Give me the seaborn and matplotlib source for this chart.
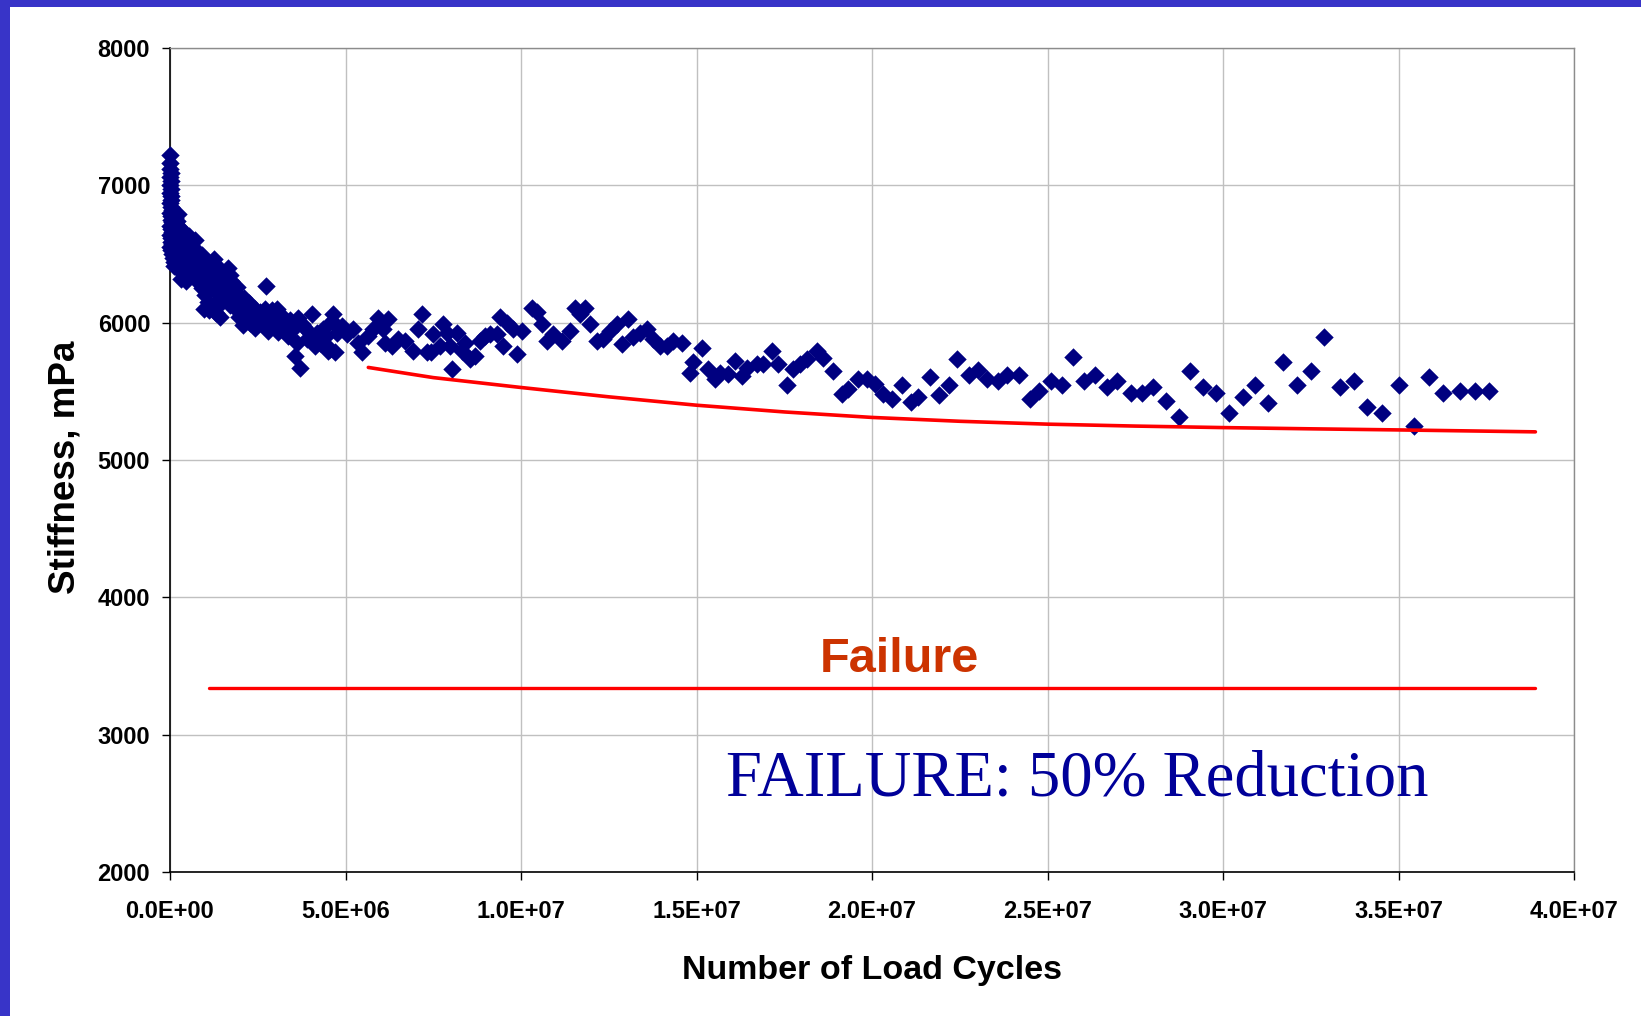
import numpy as np
import pandas as pd
import matplotlib
matplotlib.use("Agg")
import matplotlib.pyplot as plt
from matplotlib import font_manager
from matplotlib.ticker import FuncFormatter
from matplotlib.patches import Rectangle
import seaborn as sns

# ---- measured stiffness (cycles in millions, stiffness in mPa) ----
early_cycles_m = [
    0.00, 0.01, 0.00, 0.02, 0.01, 0.03, 0.00, 0.02, 0.01, 0.04, 0.02, 0.00, 0.03, 0.05, 0.01,
    0.04, 0.02, 0.06, 0.00, 0.03, 0.05, 0.01, 0.04, 0.02, 0.06, 0.00, 0.03, 0.05, 0.08, 0.10,
    0.12,
    0.10, 0.15, 0.20, 0.24, 0.25, 0.12, 0.18, 0.30, 0.35, 0.22, 0.28, 0.14, 0.40, 0.45, 0.38,
    0.32, 0.20, 0.26, 0.50, 0.53, 0.55, 0.42, 0.48, 0.35, 0.60, 0.58, 0.30, 0.45, 0.65,
    0.70, 0.75, 0.80, 0.68, 0.90, 0.85, 1.00, 0.95, 0.72, 0.78, 1.10, 1.05, 0.88, 0.92, 1.20,
    1.25, 1.30, 1.15, 1.00, 1.08, 0.98, 1.12, 1.35, 1.40, 1.28, 1.45, 1.38, 1.50, 1.42, 1.32,
    1.55,
    1.60, 1.66, 1.70, 1.75, 1.65, 1.80, 1.85, 1.72, 1.90, 1.95, 2.00, 1.88, 2.05, 1.98, 2.10,
    2.15, 2.20, 2.08, 2.25, 2.30, 2.35, 2.28, 2.40, 2.45, 2.50, 2.42, 2.55, 2.60, 2.73, 2.65,
    2.70, 2.78, 2.85, 2.80, 2.90, 2.95, 3.00, 3.05, 3.10, 3.15, 3.08, 3.20, 3.25, 3.30, 3.37,
    3.42, 3.51, 3.56, 3.61, 3.66, 3.70, 3.75, 3.80, 3.89, 3.95, 4.04, 4.13, 4.18, 4.27, 4.37,
    4.45, 4.51, 4.56, 4.61, 4.63, 4.70, 4.75, 4.89, 5.03, 5.22, 5.37, 5.46, 5.65, 5.79, 5.94,
    6.08, 6.13, 6.22, 6.32, 6.50,
]
early_stiffness = [
    7220, 7160, 7120, 7090, 7060, 7030, 7000, 6975, 6945, 6920, 6895, 6870, 6845, 6820, 6800,
    6775, 6750, 6730, 6705, 6685, 6660, 6640, 6615, 6590, 6570, 6550, 6530, 6500, 6470, 6440,
    6410,
    6790, 6760, 6740, 6790, 6700, 6680, 6650, 6680, 6620, 6600, 6560, 6540, 6590, 6560, 6520,
    6480, 6470, 6430, 6500, 6630, 6470, 6420, 6380, 6360, 6440, 6340, 6320, 6300, 6390,
    6600, 6530, 6480, 6450, 6490, 6420, 6440, 6380, 6350, 6300, 6400, 6350, 6320, 6250, 6330,
    6460, 6420, 6280, 6200, 6150, 6100, 6090, 6370, 6300, 6230, 6180, 6120, 6250, 6040, 6070,
    6330,
    6270, 6400, 6350, 6300, 6200, 6240, 6180, 6130, 6260, 6200, 6150, 6100, 6090, 6040, 6180,
    6120, 6060, 5980, 6140, 6080, 6030, 6000, 6110, 6060, 6010, 5960, 6080, 6040, 6270, 5990,
    6100, 6060, 6020, 5940, 6090, 6050, 6000, 6100, 6060, 5990, 5930, 6050, 6010, 5960, 5904,
    6020, 5952, 5758, 5855, 6037, 5673, 5990, 5977, 5880, 5930, 6062, 5831, 5928, 5855, 5952,
    5900, 5795, 5807, 6013, 6062, 5783, 5928, 5977, 5916, 5952, 5855, 5783, 5904, 5952, 6037,
    5952, 5855, 6025, 5831, 5880,
]

later_cycles_m = [
    6.70, 6.93, 7.17, 7.07, 7.31, 7.45, 7.50, 7.69, 7.79, 7.88, 7.98, 8.03, 8.17, 8.31, 8.40,
    8.55, 8.69, 8.83, 8.98, 9.12, 9.31, 9.40, 9.50, 9.59, 9.78, 9.88, 10.02, 10.30, 10.45, 10.59,
    10.73, 10.92, 11.16, 11.40, 11.54, 11.68, 11.82, 11.97, 12.16, 12.35, 12.54, 12.73, 12.87,
    13.06, 13.20, 13.39, 13.58, 13.77, 13.96, 14.15, 14.34, 14.58, 14.82, 14.91, 15.15, 15.34,
    15.53, 15.67, 15.91, 16.10, 16.29, 16.43, 16.71, 16.90, 17.14, 17.33, 17.57, 17.76, 17.95,
    18.14, 18.42, 18.61, 18.90, 19.14, 19.33, 19.61, 19.85, 20.09, 20.32, 20.56, 20.85, 21.10,
    21.30, 21.64, 21.91, 22.18, 22.43, 22.75, 23.01, 23.29, 23.60, 23.86, 24.19, 24.50, 24.77,
    25.09, 25.41, 25.72, 26.04, 26.36, 26.69, 26.99, 27.37, 27.69, 28.00, 28.38, 28.75, 29.06,
    29.44, 29.80, 30.18, 30.56, 30.92, 31.29, 31.72, 32.10, 32.51, 32.88, 33.32, 33.73, 34.11,
    34.52, 35.02, 35.44, 35.87, 36.28, 36.76, 37.19, 37.57,
]
later_stiffness = [
    5868, 5795, 6062, 5953, 5783, 5783, 5916, 5831, 5989, 5928, 5831, 5666, 5928, 5795, 5855,
    5734, 5758, 5868, 5904, 5916, 5916, 6038, 5831, 6001, 5953, 5770, 5940, 6110, 6075, 5989,
    5868, 5916, 5868, 5940, 6110, 6062, 6110, 5989, 5868, 5880, 5940, 5989, 5843,
    6025, 5892, 5928, 5953, 5880, 5831, 5831, 5868, 5855, 5637, 5710, 5819, 5661,
    5588, 5637, 5625, 5722, 5613, 5673, 5698, 5698, 5795, 5698, 5545, 5661, 5698,
    5734, 5795, 5746, 5649, 5479, 5516, 5588, 5588, 5552, 5479, 5443, 5545, 5420,
    5460, 5605, 5472, 5545, 5734, 5618, 5654, 5588, 5576, 5618, 5618, 5443, 5503,
    5576, 5545, 5751, 5576, 5618, 5533, 5576, 5486, 5486, 5533, 5431, 5314, 5649,
    5533, 5486, 5341, 5460, 5547, 5414, 5710, 5547, 5649, 5897, 5533, 5576, 5389,
    5341, 5547, 5249, 5605, 5486, 5503, 5503, 5503,
]

# ---- fitted stiffness trend ----
trend_cycles_m = [5.65, 7.5, 10.0, 12.5, 15.0, 17.5, 20.0, 22.5, 25.0, 27.5, 30.0, 32.5, 35.0, 38.9]
trend_stiffness = [5674, 5600, 5528, 5460, 5399, 5350, 5310, 5282, 5261, 5247, 5236, 5227, 5219, 5205]

# ---- failure criterion (50 % of initial stiffness) ----
failure_cycles_m = [1.12, 38.9]
failure_stiffness = [3340, 3340]

x_ticks = [0, 5e6, 1e7, 1.5e7, 2e7, 2.5e7, 3e7, 3.5e7, 4e7]
y_ticks = [2000, 3000, 4000, 5000, 6000, 7000, 8000]

measured = pd.DataFrame({
    "cycles": np.array(early_cycles_m + later_cycles_m) * 1e6,
    "stiffness": early_stiffness + later_stiffness,
})
trend = pd.DataFrame({"cycles": np.array(trend_cycles_m) * 1e6, "stiffness": trend_stiffness})
failure = pd.DataFrame({"cycles": np.array(failure_cycles_m) * 1e6, "stiffness": failure_stiffness})

sns.set_theme(style="white")
available = {f.name for f in font_manager.fontManager.ttflist}
sans = "Liberation Sans" if "Liberation Sans" in available else "DejaVu Sans"
tick_family = "Liberation Sans Narrow" if "Liberation Sans Narrow" in available else sans
tick_size = 21.5 if tick_family == "Liberation Sans Narrow" else 17
plt.rcParams["font.family"] = [sans, "DejaVu Sans"]

W, H = 1641, 1016
fig = plt.figure(figsize=(W / 100, H / 100), dpi=100, facecolor="white")
L, R, T, B = 170, 1574, 48, 872
ax = fig.add_axes([L / W, 1 - B / H, (R - L) / W, (B - T) / H])

sns.scatterplot(data=measured, x="cycles", y="stiffness", ax=ax, marker="D", s=88,
                color="#000080", linewidth=0, zorder=3, clip_on=False, legend=False)
sns.lineplot(data=trend, x="cycles", y="stiffness", ax=ax, color="#ff0000", linewidth=2.6,
             sort=False, estimator=None, zorder=4, legend=False)
sns.lineplot(data=failure, x="cycles", y="stiffness", ax=ax, color="#ff0000", linewidth=2.4,
             sort=False, estimator=None, zorder=4, legend=False)

ax.set_xlim(0, 4e7)
ax.set_ylim(2000, 8000)
ax.set_xticks(x_ticks)
ax.set_yticks(y_ticks)
ax.xaxis.set_major_formatter(FuncFormatter(lambda v, p: f"{v:.1E}"))
ax.grid(True, color="#c0c0c0", linewidth=1.0, zorder=0)
ax.set_axisbelow(True)

for side in ("left", "bottom"):
    ax.spines[side].set_color("black")
    ax.spines[side].set_linewidth(1.2)
for side in ("top", "right"):
    ax.spines[side].set_color("#8c8c8c")
    ax.spines[side].set_linewidth(1.0)

ax.tick_params(axis="both", which="major", direction="out", length=5.8, width=1.0,
               color="black", left=True, bottom=True)
ax.tick_params(axis="y", pad=8.5)
ax.tick_params(axis="x", pad=14)
for lab in ax.get_xticklabels() + ax.get_yticklabels():
    lab.set_fontfamily([tick_family, sans, "DejaVu Sans"])
    lab.set_fontweight("bold")
    lab.set_fontsize(tick_size)
    lab.set_color("black")

ax.set_xlabel("Number of Load Cycles", fontsize=24.5, fontweight="bold", color="black",
              va="baseline")
ax.xaxis.set_label_coords(0.5, (B - 979) / (B - T))
ax.set_ylabel("Stiffness, mPa", fontsize=26.5, fontweight="bold", color="black",
              va="baseline")
ax.yaxis.set_label_coords((74.5 - L) / (R - L), (B - 467) / (B - T))

ax.text(2.077e7, 3457, "Failure", fontsize=35, fontweight="bold", color="#cc3300",
        ha="center", va="baseline", zorder=5)
ax.text(1.585e7, 2554, "FAILURE: 50% Reduction", fontsize=46.5,
        family=["Liberation Serif", "DejaVu Serif"], color="#000099",
        ha="left", va="baseline", zorder=5)

# slide frame on the left and top edges
frame = "#3834c8"
fig.patches.append(Rectangle((0, 0), 10 / W, 1, transform=fig.transFigure,
                             facecolor=frame, edgecolor="none", zorder=10))
fig.patches.append(Rectangle((0, 1 - 7 / H), 1, 7 / H, transform=fig.transFigure,
                             facecolor=frame, edgecolor="none", zorder=10))

fig.savefig("out.png", dpi=100, facecolor="white")
